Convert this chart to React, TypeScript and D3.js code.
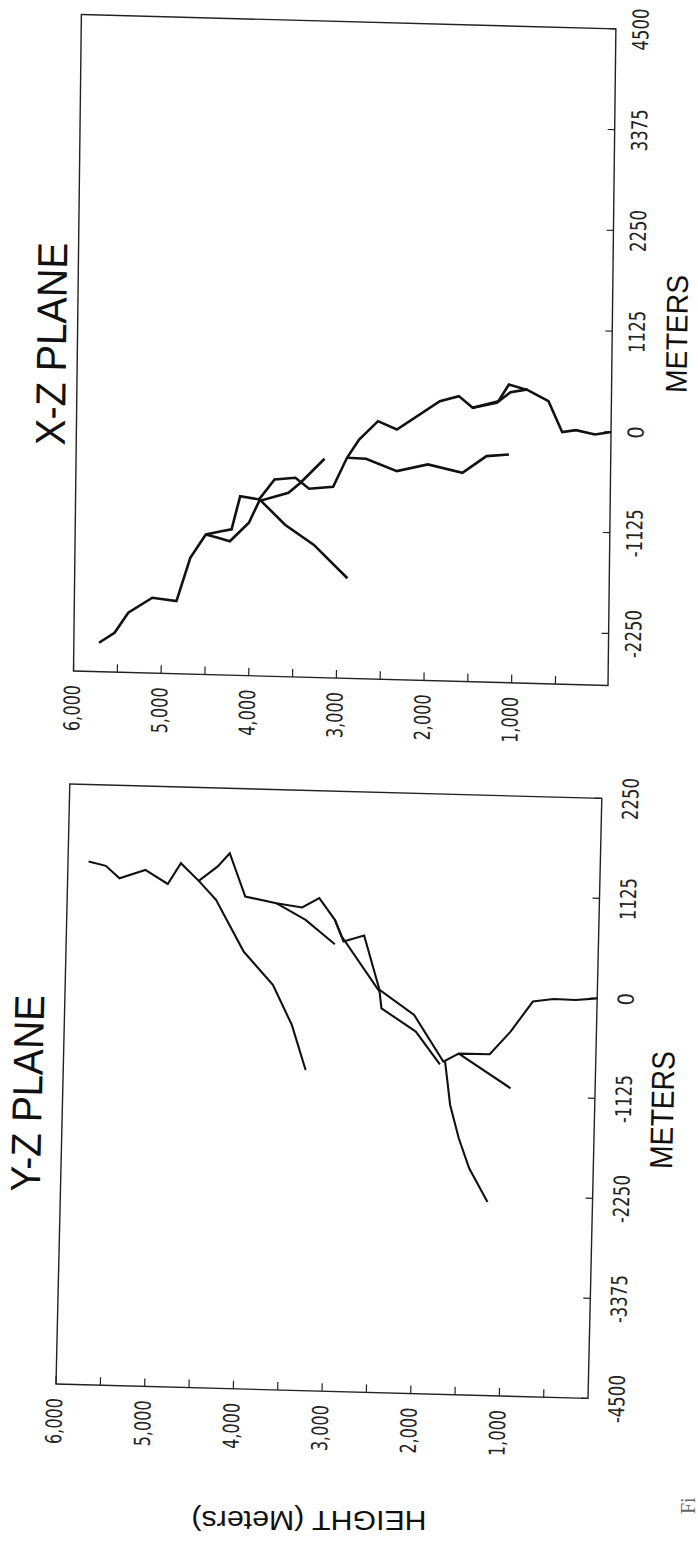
import React from "react";
import * as d3 from "d3";

// ---------- axis values ----------
const HEIGHT_LABELS = [6000, 5000, 4000, 3000, 2000, 1000];
const HEIGHT_MINOR = [5500, 4500, 3500, 2500, 1500, 500];
const XZ_METER_TICKS = [4500, 3375, 2250, 1125, 0, -1125, -2250];
const YZ_METER_TICKS = [2250, 1125, 0, -1125, -2250, -3375, -4500];

// ---------- X-Z plane tracks: [height (m), x distance (m)] ----------
const XZ_MAIN: [number, number][] = [
  [-100, 0], [83, -33], [300, 10], [457, -17], [618, 325], [855, 442], [1072, 499],
  [1189, 310], [1482, 228], [1641, 354], [1857, 292], [2344, -37], [2560, 50],
  [2773, -160], [2909, -368], [3063, -696], [3337, -725], [3495, -606], [3732, -632],
  [3906, -859], [4122, -828], [4216, -1202], [4333, -1225], [4509, -1266],
  [4683, -1531], [4835, -2019], [5111, -1989], [5383, -2163], [5537, -2391], [5713, -2507],
];
const XZ_BRANCH_Q: [number, number][] = [
  [3165, -386], [3436, -661], [3572, -776], [3905, -878], [4019, -1123],
  [4234, -1334], [4371, -1299], [4509, -1266],
];
const XZ_BRANCH_R: [number, number][] = [
  [3916, -844], [3607, -1134], [3274, -1350], [2888, -1712],
];
const XZ_BRANCH_S: [number, number][] = [
  [2909, -368], [2692, -373], [2338, -502], [1985, -418], [1590, -500], [1318, -307], [1062, -282],
];
const XZ_BRANCH_T: [number, number][] = [
  [856, 450], [1052, 414], [1208, 291], [1482, 228],
];

// ---------- Y-Z plane tracks: [height (m), y distance (m)] ----------
const YZ_MAIN: [number, number][] = [
  [0, 0], [240, -24], [492, -20], [724, -55], [968, -400], [1197, -661], [1546, -663],
  [1718, -758], [2059, -242], [2455, 29], [2496, 160], [2643, 636], [2874, 562],
  [2977, 803], [3158, 1042], [3349, 932], [3642, 973], [3993, 1038], [4179, 1521],
  [4311, 1368], [4521, 1200], [4727, 1394], [4870, 1156], [5126, 1307], [5415, 1206],
  [5573, 1341], [5768, 1385],
];
const YZ_BRANCH_2: [number, number][] = [
  [1756, -789], [2036, -429], [2429, -177], [2455, 10], [2895, 618], [2977, 803],
];
const YZ_BRANCH_Q: [number, number][] = [
  [4521, 1200], [4322, 992], [3997, 419], [3659, 53], [3435, -391], [3268, -893],
];
const YZ_BRANCH_R: [number, number][] = [
  [3642, 973], [3307, 794], [2971, 529],
];
const YZ_BRANCH_E: [number, number][] = [
  [1546, -663], [953, -1037],
];
const YZ_BRANCH_B: [number, number][] = [
  [1698, -757], [1630, -1243], [1524, -1615], [1399, -1949], [1184, -2322],
];

// slight tilt of the scanned page (affine: y shifts with x, x shifts with y)
const TILT_Y = 0.027;

const LABEL_FONT =
  "'Liberation Sans Narrow', 'Arial Narrow', 'DejaVu Sans Condensed', 'Liberation Sans', Arial, sans-serif";
const TITLE_FONT = "'Liberation Sans', Arial, Helvetica, sans-serif";

type PanelProps = {
  hDomain: [number, number];
  hRange: [number, number];
  mDomain: [number, number];
  mRange: [number, number];
  meterTicks: number[];
  tracks: [number, number][][];
  title: string;
  titlePos: [number, number];
  titleLen: number;
  metersPos: [number, number];
  metersSize: number;
  rightLabelX: number;
  lineWidth: number;
  tiltX: number;
};

function Panel(p: PanelProps) {
  const h = d3.scaleLinear().domain(p.hDomain).range(p.hRange);
  const m = d3.scaleLinear().domain(p.mDomain).range(p.mRange);
  const line = d3
    .line<[number, number]>()
    .x((d) => h(d[0]))
    .y((d) => m(d[1]));
  const left = p.hRange[0];
  const right = p.hRange[1];
  const top = p.mRange[1];
  const bottom = p.mRange[0];
  const meterLabel = (v: number) => (v < 0 ? "-" + Math.abs(v) : String(v));
  const tf = `matrix(1,${TILT_Y},${p.tiltX},1,${-p.tiltX * bottom},0)`;
  return (
    <g transform={tf}>
      <rect
        x={left}
        y={top}
        width={right - left}
        height={bottom - top}
        fill="none"
        stroke="#222"
        strokeWidth={1.4}
      />
      {[...HEIGHT_LABELS, ...HEIGHT_MINOR].map((t) => (
        <line key={"ht" + t} x1={h(t)} x2={h(t)} y1={bottom} y2={bottom - 8} stroke="#222" strokeWidth={1.2} />
      ))}
      {p.meterTicks.map((t) => (
        <line key={"mt" + t} x1={right} x2={right - 7} y1={m(t)} y2={m(t)} stroke="#222" strokeWidth={1.2} />
      ))}
      {HEIGHT_LABELS.map((t) => (
        <text
          key={"hl" + t}
          transform={`translate(${h(t) - 1},${bottom + 14}) rotate(-90)`}
          textAnchor="end"
          dominantBaseline="central"
          fontFamily={LABEL_FONT}
          fontSize={22}
          textLength={46}
          lengthAdjust="spacingAndGlyphs"
          fill="#222"
        >
          {d3.format(",")(t)}
        </text>
      ))}
      {p.meterTicks.map((t) => {
        const s = meterLabel(t);
        return (
          <text
            key={"ml" + t}
            transform={`translate(${p.rightLabelX},${m(t)}) rotate(-90)`}
            textAnchor="middle"
            dominantBaseline="central"
            fontFamily={LABEL_FONT}
            fontSize={22}
            textLength={s.length > 1 ? s.replace("-", "").length * 10.5 + (s.startsWith("-") ? 6 : 0) : undefined}
            lengthAdjust="spacingAndGlyphs"
            fill="#222"
          >
            {s}
          </text>
        );
      })}
      {p.tracks.map((tr, i) => (
        <path
          key={"tr" + i}
          d={line(tr) || ""}
          fill="none"
          stroke="#111"
          strokeWidth={p.lineWidth}
          strokeLinejoin="miter"
          strokeLinecap="butt"
        />
      ))}
      <text
        transform={`translate(${p.titlePos[0]},${p.titlePos[1]}) rotate(-90)`}
        textAnchor="middle"
        dominantBaseline="central"
        fontFamily={TITLE_FONT}
        fontSize={42}
        textLength={p.titleLen}
        lengthAdjust="spacingAndGlyphs"
        fill="#111"
      >
        {p.title}
      </text>
      <text
        transform={`translate(${p.metersPos[0]},${p.metersPos[1]}) rotate(-90)`}
        textAnchor="middle"
        dominantBaseline="central"
        fontFamily={TITLE_FONT}
        fontSize={p.metersSize}
        textLength={118}
        lengthAdjust="spacingAndGlyphs"
        fill="#111"
      >
        METERS
      </text>
    </g>
  );
}

export default function App() {
  return (
    <svg
      width={698}
      height={1564}
      viewBox="0 0 698 1564"
      style={{ position: "absolute", left: 0, top: 0, background: "#fff" }}
    >
      <rect x={0} y={0} width={698} height={1564} fill="#fff" />
      <Panel
        hDomain={[6000, -100]}
        hRange={[73.5, 608]}
        mDomain={[-2830, 4500]}
        mRange={[669, 12.5]}
        meterTicks={XZ_METER_TICKS}
        tracks={[XZ_MAIN, XZ_BRANCH_Q, XZ_BRANCH_R, XZ_BRANCH_S, XZ_BRANCH_T]}
        title="X-Z PLANE"
        titlePos={[47.6, 342.7]}
        titleLen={203}
        metersPos={[672.5, 315.8]}
        metersSize={30}
        rightLabelX={633}
        lineWidth={2.6}
        tiltX={-0.012}
      />
      <Panel
        hDomain={[6000, 0]}
        hRange={[56, 588]}
        mDomain={[-4500, 2250]}
        mRange={[1382.5, 782.5]}
        meterTicks={YZ_METER_TICKS}
        tracks={[YZ_MAIN, YZ_BRANCH_2, YZ_BRANCH_Q, YZ_BRANCH_R, YZ_BRANCH_E, YZ_BRANCH_B]}
        title="Y-Z PLANE"
        titlePos={[20.8, 1092.9]}
        titleLen={197}
        metersPos={[655.7, 1092.3]}
        metersSize={32}
        rightLabelX={617}
        lineWidth={2.1}
        tiltX={-0.023}
      />
      <text
        transform="translate(309,1520) rotate(180)"
        textAnchor="middle"
        dominantBaseline="central"
        fontFamily={TITLE_FONT}
        fontSize={27}
        textLength={235}
        lengthAdjust="spacingAndGlyphs"
        fill="#111"
      >
        HEIGHT (Meters)
      </text>
      <text
        transform="translate(695,1514) rotate(-90)"
        textAnchor="start"
        fontFamily="'Liberation Serif', 'DejaVu Serif', serif"
        fontSize={20}
        fill="#666"
      >
        Fi
      </text>
    </svg>
  );
}
